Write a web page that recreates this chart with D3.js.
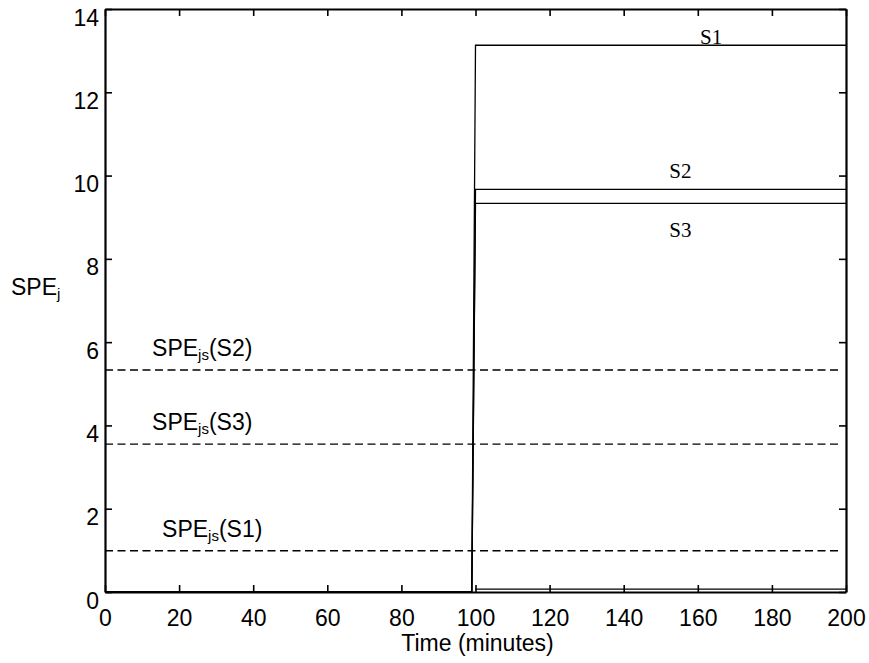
<!DOCTYPE html>
<head>
<meta charset="utf-8">
<script src="https://d3js.org/d3.v7.min.js"></script>
<title>SPE</title>
<style>
  body { margin: 0; background: #fff; }
</style>
</head>
<body>
<div id="graph_container"></div>
<script>
// time axis of the faulted statistics (minutes)
const time = [0, 99, 100, 200];
const seriesNames = ['S1', 'S2', 'S3'];
const spe_s1 = [0, 0, 13.13, 13.13];
const spe_s2 = [0, 0, 9.67, 9.67];
const spe_s3 = [0, 0, 9.33, 9.33];
// small residual line along the bottom after the step
const tailTime = [100, 200];
const tailValue = [0.07, 0.07];
// control limits
const limitNames = ['S2', 'S3', 'S1'];
const limitValues = [5.33, 3.55, 0.99];
const limitTime = [0, 198];
const xTicks = [0, 20, 40, 60, 80, 100, 120, 140, 160, 180, 200];
const yTicks = [0, 2, 4, 6, 8, 10, 12, 14];

const W = 869, H = 663;
const margin = {left: 105, top: 9, right: 23, bottom: 71};
const w = W - margin.left - margin.right;
const h = H - margin.top - margin.bottom;
const sans = '"Liberation Sans", Arial, sans-serif';
const serif = '"Liberation Serif", "Times New Roman", serif';
const fs = 23;

const svg = d3.select('#graph_container').append('svg')
  .attr('width', W).attr('height', H);
const g = svg.append('g').attr('transform', `translate(${margin.left},${margin.top})`);

const x = d3.scaleLinear().domain([0, 200]).range([0, w]);
const y = d3.scaleLinear().domain([0, 14]).range([h, 0]);

const line = d3.line().x(d => x(d[0])).y(d => y(d[1]));

// dashed limits
limitValues.forEach(function(v) {
  g.append('path')
    .datum(limitTime.map(t => [t, v]))
    .attr('d', line)
    .attr('fill', 'none')
    .attr('stroke', '#000')
    .attr('stroke-width', 1.4)
    .attr('stroke-dasharray', '8,4.5');
});

// series
[spe_s1, spe_s2, spe_s3].forEach(function(vals) {
  g.append('path')
    .datum(time.map((t, i) => [t, vals[i]]))
    .attr('d', line)
    .attr('fill', 'none')
    .attr('stroke', '#000')
    .attr('stroke-width', 1.3);
});
g.append('path')
  .datum(tailTime.map((t, i) => [t, tailValue[i]]))
  .attr('d', line)
  .attr('fill', 'none')
  .attr('stroke', '#000')
  .attr('stroke-width', 1.2);

// axes, ticks inward on all four sides
const tickLen = 7;
const ax = [
  g.append('g').attr('transform', `translate(0,${h})`)
    .call(d3.axisBottom(x).tickValues(xTicks).tickSizeInner(-tickLen).tickSizeOuter(0).tickPadding(18)),
  g.append('g')
    .call(d3.axisLeft(y).tickValues(yTicks).tickSizeInner(-tickLen).tickSizeOuter(0).tickPadding(6)),
  g.append('g')
    .call(d3.axisTop(x).tickValues(xTicks).tickSizeInner(-tickLen).tickSizeOuter(0).tickFormat('')),
  g.append('g').attr('transform', `translate(${w},0)`)
    .call(d3.axisRight(y).tickValues(yTicks).tickSizeInner(-tickLen).tickSizeOuter(0).tickFormat(''))
];
ax.forEach(a => {
  a.select('.domain').attr('stroke-width', 2.2);
  a.selectAll('.tick line').attr('stroke-width', 1.6);
  a.selectAll('text').attr('font-size', fs).attr('font-family', sans).attr('fill', '#000');
});
ax[1].selectAll('.tick text').attr('dy', '0.7em');

// axis titles
svg.append('text')
  .attr('x', margin.left + w / 2 + 2).attr('y', 651)
  .attr('text-anchor', 'middle').attr('font-size', fs).attr('font-family', sans)
  .text('Time (minutes)');

const yl = svg.append('text').attr('x', 11).attr('y', 295)
  .attr('font-size', fs).attr('font-family', sans);
yl.append('tspan').text('SPE');
yl.append('tspan').attr('font-size', 15).attr('dy', 4).text('j');

// limit labels
const limitLabelPos = {S2: 12.7, S3: 12.7, S1: 15.4};
limitNames.forEach(function(n, i) {
  const t = svg.append('text')
    .attr('x', margin.left + x(limitLabelPos[n]))
    .attr('y', margin.top + y(limitValues[i]) - 14)
    .attr('font-size', fs).attr('font-family', sans);
  t.append('tspan').text('SPE');
  t.append('tspan').attr('font-size', 15).attr('dy', 4).text('js');
  t.append('tspan').attr('dy', -4).text('(' + n + ')');
});

// series labels
const seriesLabelTime = [160.6, 152.3, 152.3];
const seriesLabelOffset = [-1, -11, 34];
[spe_s1, spe_s2, spe_s3].forEach(function(vals, i) {
  svg.append('text')
    .attr('x', margin.left + x(seriesLabelTime[i]))
    .attr('y', margin.top + y(vals[3]) + seriesLabelOffset[i])
    .attr('font-family', serif)
    .attr('font-size', 21)
    .text(seriesNames[i]);
});
</script>
</body>
